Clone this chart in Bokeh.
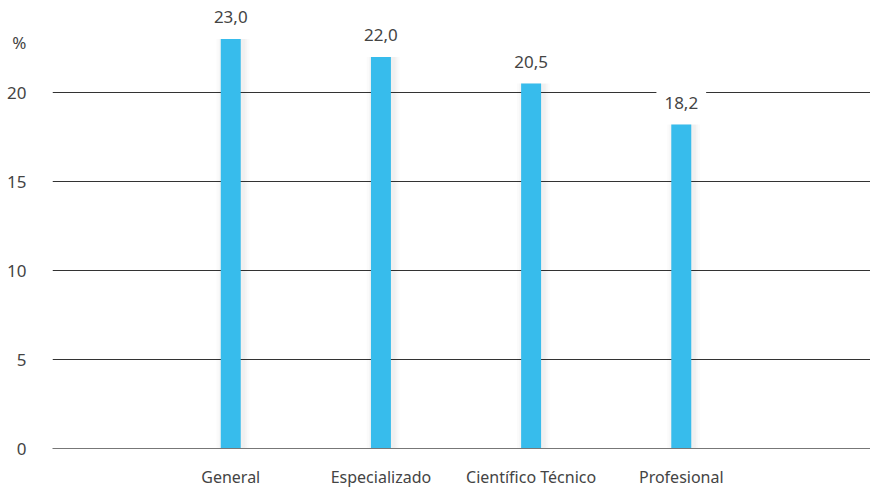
from bokeh.plotting import figure
from bokeh.models import ColumnDataSource, FixedTicker, Range1d
from bokeh.core.properties import value
from bokeh.embed import file_html
from bokeh.resources import INLINE

categories = ["General", "Especializado", "Científico Técnico", "Profesional"]
values = [23.0, 22.0, 20.5, 18.2]
y_ticks = [0, 5, 10, 15, 20]
unit_label = "%"
unit_pos = 22.8

xs = list(range(len(categories)))
labels = [f"{v:.1f}".replace(".", ",") for v in values]
src = ColumnDataSource(dict(x=xs, top=values, label=labels))

FONT = "Noto Sans"
TXT = "#444444"

p = figure(width=870, height=490, output_backend="svg", toolbar_location=None,
           x_range=Range1d(-1.187, 3 + 1.26), y_range=Range1d(0, 25.17),
           min_border_left=52, min_border_right=0, min_border_top=0, min_border_bottom=42)
p.outline_line_color = None
p.background_fill_color = "white"

# soft shadow
for w, a in [(0.22, 0.015), (0.19, 0.02), (0.165, 0.025)]:
    p.vbar(x=[x + 0.015 for x in xs], top=values, width=w, color="#000000", alpha=a, line_color=None)
p.vbar(x="x", top="top", width=0.133, source=src, color="#37BCEC", line_color=None)

p.text(x="x", y="top", text="label", source=src, text_align="center",
       text_baseline="bottom", y_offset=-8, text_font=value(FONT), text_font_size="17px",
       text_color=TXT, background_fill_color="white", padding=8)

p.xaxis.ticker = FixedTicker(ticks=xs)
p.xaxis.major_label_overrides = {i: c for i, c in enumerate(categories)}
p.xaxis.major_label_text_font = FONT
p.xaxis.major_label_text_font_size = "16px"
p.xaxis.major_label_text_color = TXT
p.xaxis.major_label_standoff = 17
p.xaxis.major_tick_out = 0
p.xaxis.major_tick_in = 0
p.xaxis.major_tick_line_color = None
p.xaxis.minor_tick_line_color = None
p.xaxis.axis_line_color = "#777777"

p.yaxis.ticker = FixedTicker(ticks=y_ticks + [unit_pos])
p.yaxis.major_label_overrides = {unit_pos: unit_label}
p.yaxis.major_label_text_font = FONT
p.yaxis.major_label_text_font_size = "17px"
p.yaxis.major_label_text_color = TXT
p.yaxis.major_label_standoff = 26
p.yaxis.major_tick_out = 0
p.yaxis.major_tick_in = 0
p.yaxis.major_tick_line_color = None
p.yaxis.minor_tick_line_color = None
p.yaxis.axis_line_color = None

p.xgrid.grid_line_color = None
p.ygrid.ticker = FixedTicker(ticks=y_ticks)
p.ygrid.grid_line_color = "#333333"
p.ygrid.level = "underlay"

open("out.html", "w").write(file_html(p, INLINE))
